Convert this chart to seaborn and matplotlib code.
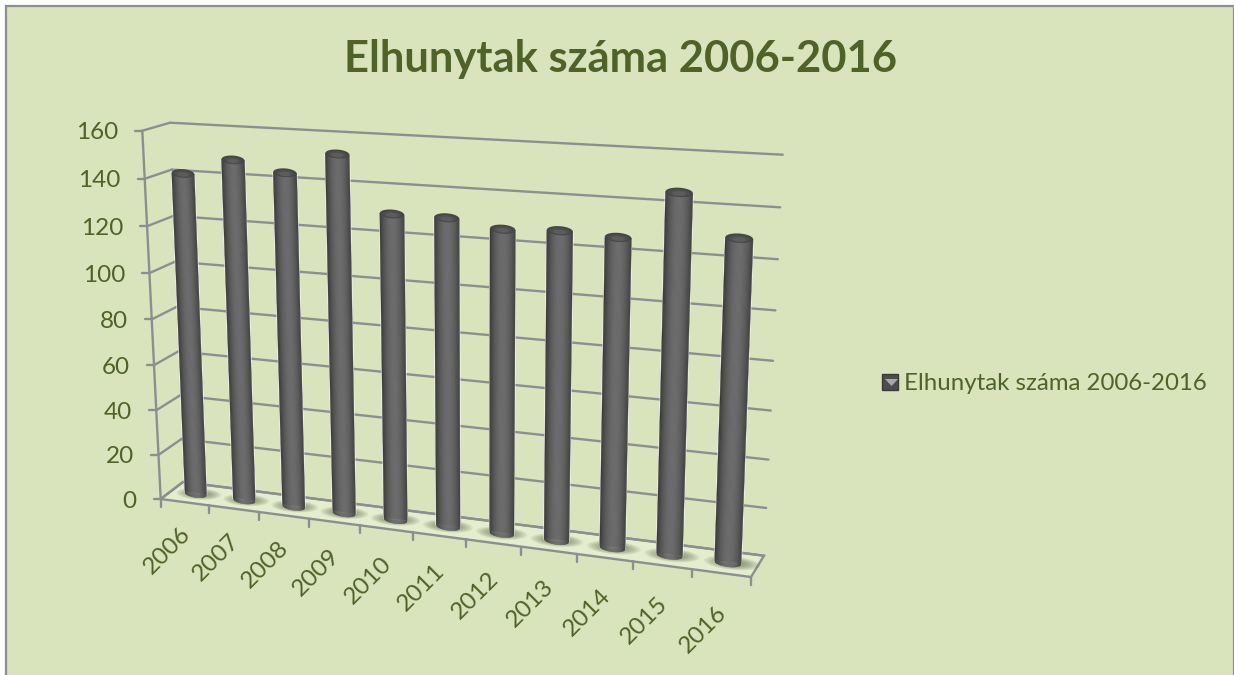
import numpy as np
import pandas as pd
import matplotlib
matplotlib.use("Agg")
import matplotlib.pyplot as plt
from matplotlib.patches import Rectangle, Patch, Polygon
from matplotlib.transforms import Transform
import seaborn as sns

years = [2006, 2007, 2008, 2009, 2010, 2011, 2012, 2013, 2014, 2015, 2016]
deaths = [141, 148, 144, 153, 130, 130, 127, 128, 127, 146, 130]
value_ticks = [0, 20, 40, 60, 80, 100, 120, 140, 160]
title = "Elhunytak száma 2006-2016"

GREEN = "#4f6228"
BG = "#d9e4bd"
LINE = "#8e8e90"
sns.set_theme(style="white")
plt.rcParams["font.family"] = ["Lato", "DejaVu Sans"]


def solve(src, dst):
    A, b = [], []
    for (x, y), (u, v) in zip(src, dst):
        A.append([x, y, 1, 0, 0, 0, -u * x, -u * y]); b.append(u)
        A.append([0, 0, 0, x, y, 1, -v * x, -v * y]); b.append(v)
    return np.append(np.linalg.solve(np.array(A, float), np.array(b, float)), 1).reshape(3, 3)


class Persp(Transform):
    input_dims = output_dims = 2
    is_separable = False
    has_inverse = False

    def __init__(self, src, dst):
        super().__init__()
        self.m = solve(src, dst)

    def transform_non_affine(self, values):
        v = np.asarray(values, float)
        p = np.c_[v, np.ones(len(v))] @ self.m.T
        return p[:, :2] / p[:, 2:3]


x0, x1 = years[0] - 0.5, years[-1] + 0.5
plane = [(x0, 160), (x0, 0), (x1, 0), (x1, 160)]
front_px = np.array([(142.3, 130.7), (160.7, 499), (751, 577), (764, 167)])
back_px = np.array([(170, 122.7), (183, 482), (764, 555.7), (782.7, 154.7)])
mid_px = (front_px + back_px) / 2

fig = plt.figure(figsize=(12.34, 6.75), dpi=100, facecolor="white")
ax = fig.add_axes([0, 0, 1, 1])

df = pd.DataFrame({"year": years, "deaths": deaths})
W = 0.45
sns.barplot(data=df, x="year", y="deaths", native_scale=True, width=W, color="#5a5a5a",
            saturation=1, ax=ax, zorder=5)
ax.set_autoscale_on(False)
ax.set_xlim(0, 1234)
ax.set_ylim(675, 0)
ax.set_axis_off()

F = Persp(plane, front_px)
B = Persp(plane, back_px)
M = Persp(plane, mid_px)
G = Persp([(x0, 1), (x0, 0), (x1, 0), (x1, 1)], [back_px[1], front_px[1], front_px[2], back_px[2]])
Mt, Gt, Ft, Bt = M + ax.transData, G + ax.transData, F + ax.transData, B + ax.transData

for p in ax.patches:
    p.set_transform(Mt)

# background and frame
ax.add_patch(Rectangle((6, 6), 1227.5, 680, fc=BG, ec=LINE, lw=1.6, zorder=0))

# floor
ax.fill([x0, x1, x1, x0], [0, 0, 1, 1], transform=Gt, fc="#e4edcd", ec="none", zorder=1)
ax.plot([x0, x1, x1, x0, x0], [0, 0, 1, 1, 0], transform=Gt, color=LINE, lw=1.7, zorder=2,
        solid_joinstyle="miter")

# gridlines on back and left walls, ticks
for v in value_ticks:
    ax.plot([x0, x1], [v, v], transform=Bt, color=LINE, lw=1.7, zorder=2)
    a = F.transform([(x0, v)])[0]
    b = B.transform([(x0, v)])[0]
    ax.plot([a[0], b[0]], [a[1], b[1]], color=LINE, lw=1.7, zorder=2)
    ax.plot([a[0] - 7, a[0]], [a[1], a[1]], color=LINE, lw=1.7, zorder=2)
    ax.text(a[0] - 24, a[1] + 2, str(v), ha="right", va="center", fontsize=17.5, color=GREEN)
ax.plot([x0, x0], [0, 160], transform=Ft, color=LINE, lw=1.7, zorder=2)

for e in [x0] + [y + 0.5 for y in years]:
    a = F.transform([(e, 0)])[0]
    ax.plot([a[0], a[0]], [a[1], a[1] + 8], color=LINE, lw=1.7, zorder=2)

for i, y in enumerate(years):
    a = F.transform([(y, 0)])[0]
    ax.text(a[0] - 18, a[1] + 48 + 0.8 * i, str(y), rotation=45, rotation_mode="anchor",
            ha="center", va="center", fontsize=17.5, color=GREEN)

# cylinders
K = 1.8
t = np.linspace(-1, 1, 25)
th = np.linspace(0, 2 * np.pi, 60)


def shade(u, lo=0x3a, hi=0x6e):
    c = max(np.cos(np.pi / 2 * np.clip(u - 0.05, -1, 1)), 0.0)
    g = int(lo + (hi - lo) * c ** 0.8)
    return f"#{g:02x}{g:02x}{g:02x}"


for y, v in zip(years, deaths):
    # floor shadow
    for s in np.linspace(1, 0.35, 9):
        ax.fill(y + 0.08 + 0.46 * s * np.cos(th), 0.5 + 0.3 * s * np.sin(th), transform=Gt,
                fc="#4f5f38", ec="none", alpha=0.085, zorder=3)
    # body
    for a, b in zip(t[:-1], t[1:]):
        xs = y + W / 2 * np.array([a, b, b, a])
        bot = -K * np.sqrt(np.clip(1 - np.array([a, b]) ** 2, 0, 1))
        ax.fill(xs, [bot[0], bot[1], v, v], transform=Mt, fc=shade((a + b) / 2),
                ec=shade((a + b) / 2), lw=0.3, zorder=6)
    # rounded cap: dark rim fading into a soft highlight
    for s, col in zip([1.0, 0.75, 0.5], ["#464646", "#4f4f4f", "#5c5c5c"]):
        ax.fill(y + W / 2 * s * np.cos(th), v - (1 - s) * K * 0.5 + K * s * np.sin(th), transform=Mt,
                fc=col, ec="none", zorder=7)

# title
ax.text(620, 59, title, ha="center", va="center", fontsize=31.3, fontweight="bold", color=GREEN)

# legend
ax.legend(handles=[Patch(facecolor="#4c4c4c", edgecolor="#3a3a3a", label=title)],
          loc="center left", bbox_to_anchor=(882 / 1234, 1 - 384 / 675), frameon=False,
          fontsize=17.3, labelcolor=GREEN, handlelength=0.68, handleheight=0.68,
          handletextpad=0.25, borderpad=0, borderaxespad=0)
ax.add_patch(Polygon([(885, 379), (898, 379), (891.5, 386)], fc="#a8a8a8", ec="none", zorder=20))

fig.savefig("out.png", dpi=100)
